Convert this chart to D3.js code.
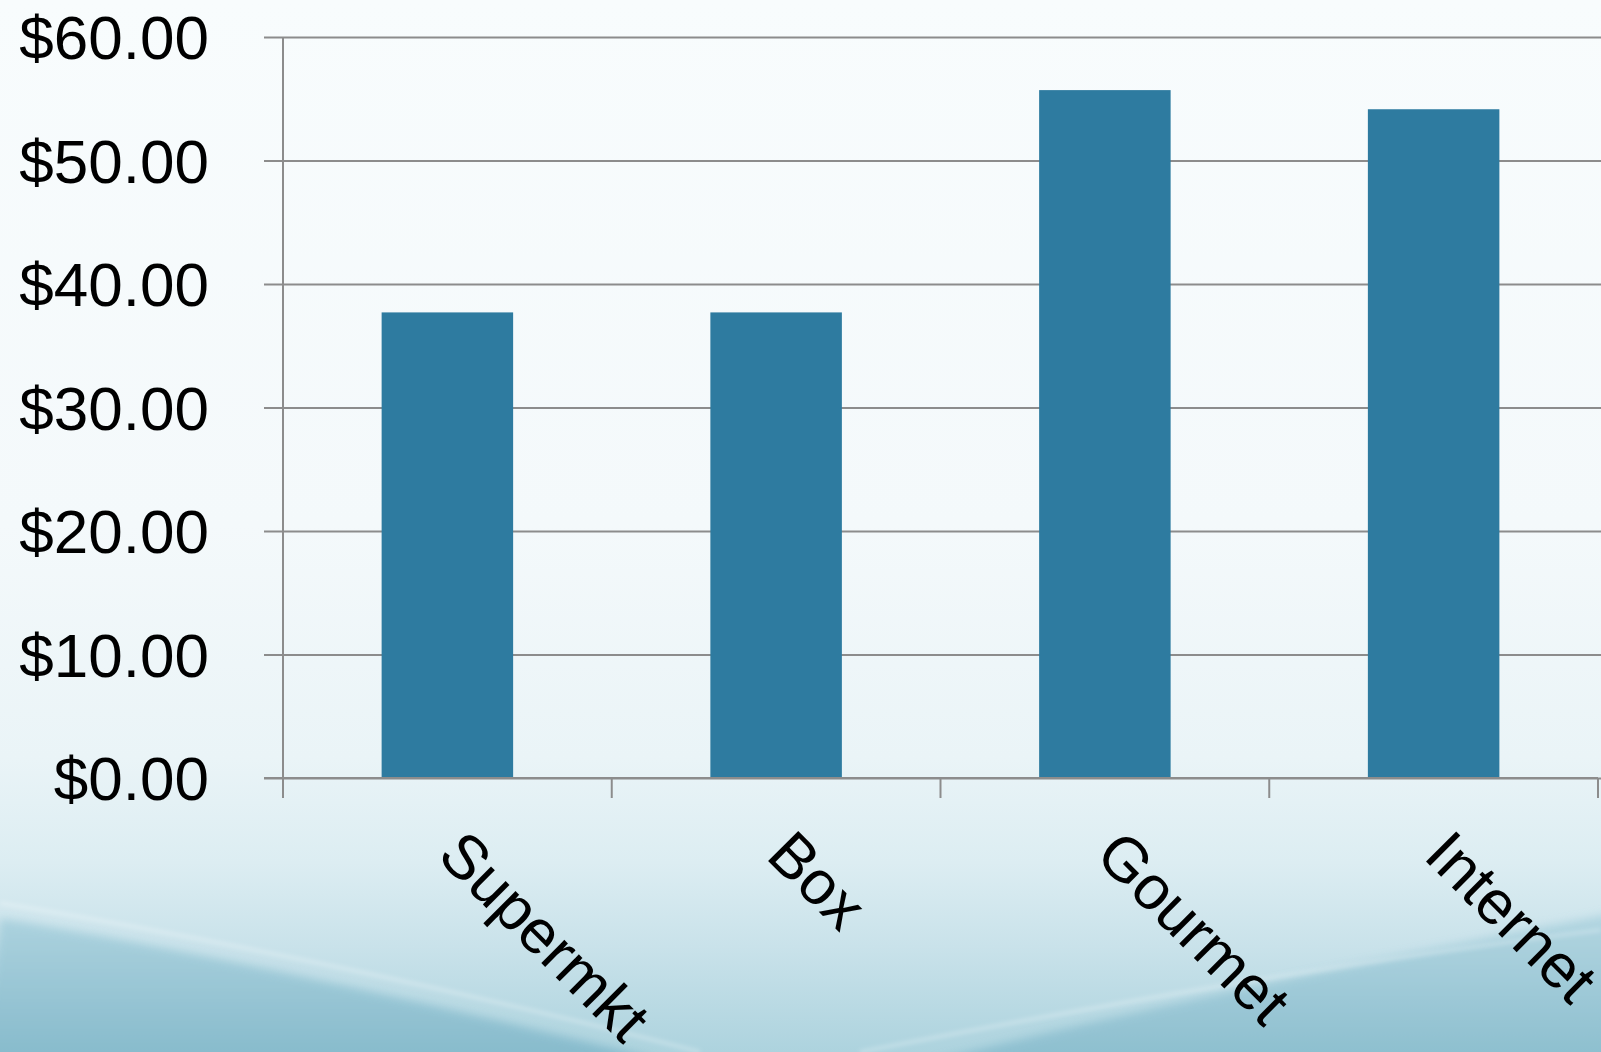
<!DOCTYPE html>
<html>
<head>
<meta charset="utf-8">
<script src="https://cdn.jsdelivr.net/npm/d3@7"></script>
<style>
  html, body { margin: 0; padding: 0; overflow: hidden; }
  svg { display: block; }
</style>
</head>
<body>
<svg id="chart" width="1601" height="1052"></svg>
<script>
const categories = ["Supermkt", "Box", "Gourmet", "Internet"];
const values = [37.7, 37.7, 55.7, 54.15];
const yTicks = [0, 10, 20, 30, 40, 50, 60];

const W = 1601, H = 1052;
const svg = d3.select("#chart");
const defs = svg.append("defs");

// background gradient
const bg = defs.append("linearGradient").attr("id", "bg").attr("x1", 0).attr("y1", 0).attr("x2", 0).attr("y2", 1);
[[0, "#f8fcfd"], [0.5, "#f4f9fb"], [0.72, "#eaf4f7"], [0.82, "#dcedf2"], [0.9, "#c9e2ea"], [1, "#add3de"]]
  .forEach(([o, c]) => bg.append("stop").attr("offset", o).attr("stop-color", c));
svg.append("rect").attr("width", W).attr("height", H).attr("fill", "url(#bg)");

const sw = defs.append("linearGradient").attr("id", "sw").attr("x1", 0).attr("y1", 0).attr("x2", 0).attr("y2", 1);
[[0, "#a6cfdc"], [1, "#7db5c8"]].forEach(([o, c]) => sw.append("stop").attr("offset", o).attr("stop-color", c));

const blur = defs.append("filter").attr("id", "soft").attr("x", "-10%").attr("y", "-10%").attr("width", "120%").attr("height", "120%");
blur.append("feGaussianBlur").attr("stdDeviation", 5);
const blur2 = defs.append("filter").attr("id", "soft2").attr("x", "-10%").attr("y", "-10%").attr("width", "120%").attr("height", "120%");
blur2.append("feGaussianBlur").attr("stdDeviation", 2);

// left swoosh
svg.append("path")
  .attr("d", "M0,918 C220,955 460,1010 660,1060 L-20,1070 Z")
  .attr("fill", "url(#sw)").attr("opacity", 0.85).attr("filter", "url(#soft)");
// right swoosh
svg.append("path")
  .attr("d", "M1620,912 C1400,955 1150,1005 930,1062 L1620,1070 Z")
  .attr("fill", "url(#sw)").attr("opacity", 0.7).attr("filter", "url(#soft)");
// highlight streaks
svg.append("path")
  .attr("d", "M0,903 C250,945 500,1000 700,1052")
  .attr("fill", "none").attr("stroke", "#ffffff").attr("stroke-opacity", 0.25).attr("stroke-width", 4).attr("filter", "url(#soft2)");
svg.append("path")
  .attr("d", "M860,1052 C1150,995 1400,955 1601,930")
  .attr("fill", "none").attr("stroke", "#ffffff").attr("stroke-opacity", 0.25).attr("stroke-width", 4).attr("filter", "url(#soft2)");

// scales
const x = d3.scaleBand().domain(categories).range([283, 1598]).paddingInner(0.6).paddingOuter(0.3);
const xb = d3.scaleBand().domain(categories).range([283, 1598]);
const y = d3.scaleLinear().domain([0, 60]).range([778, 37]);

const axisColor = "#8c8c8c";

// gridlines + y axis
const yAxis = d3.axisLeft(y).tickValues(yTicks).tickSize(-(1601 - 283)).tickFormat(d => "$" + d3.format(".2f")(d)).tickPadding(0);
const gy = svg.append("g").attr("transform", "translate(283,0)").call(yAxis);
gy.select(".domain").remove();
gy.selectAll(".tick line").attr("x1", -19).attr("stroke", axisColor).attr("stroke-width", 2);
gy.selectAll(".tick text")
  .attr("x", -74).attr("dy", "0.35em")
  .attr("fill", "#000").style("font-family", "'Liberation Sans', Arial, sans-serif").style("font-size", "62px");

// bars
svg.append("g").selectAll("rect").data(categories).join("rect")
  .attr("x", d => x(d)).attr("width", x.bandwidth())
  .attr("y", (d, i) => y(values[i])).attr("height", (d, i) => y(0) - y(values[i]))
  .attr("fill", "#2e7ba0");

// y axis line
svg.append("line").attr("x1", 283).attr("x2", 283).attr("y1", y(60)).attr("y2", y(0))
  .attr("stroke", axisColor).attr("stroke-width", 2);

// x axis baseline and ticks
const bounds = categories.map(c => xb(c)).concat([xb(categories[categories.length - 1]) + xb.bandwidth()]);
svg.append("line").attr("x1", 264).attr("x2", 1598).attr("y1", y(0)).attr("y2", y(0))
  .attr("stroke", axisColor).attr("stroke-width", 2);
svg.append("g").selectAll("line").data(bounds).join("line")
  .attr("x1", d => d).attr("x2", d => d).attr("y1", y(0)).attr("y2", y(0) + 20)
  .attr("stroke", axisColor).attr("stroke-width", 2);

// x labels
svg.append("g").selectAll("text").data(categories).join("text")
  .attr("transform", d => `translate(${xb(d) + xb.bandwidth() / 2 + 20},826) rotate(45)`)
  .attr("dy", "0.72em")
  .attr("text-anchor", "start")
  .attr("fill", "#000").style("font-family", "'Liberation Sans', Arial, sans-serif").style("font-size", "62px")
  .text(d => d);
</script>
</body>
</html>
